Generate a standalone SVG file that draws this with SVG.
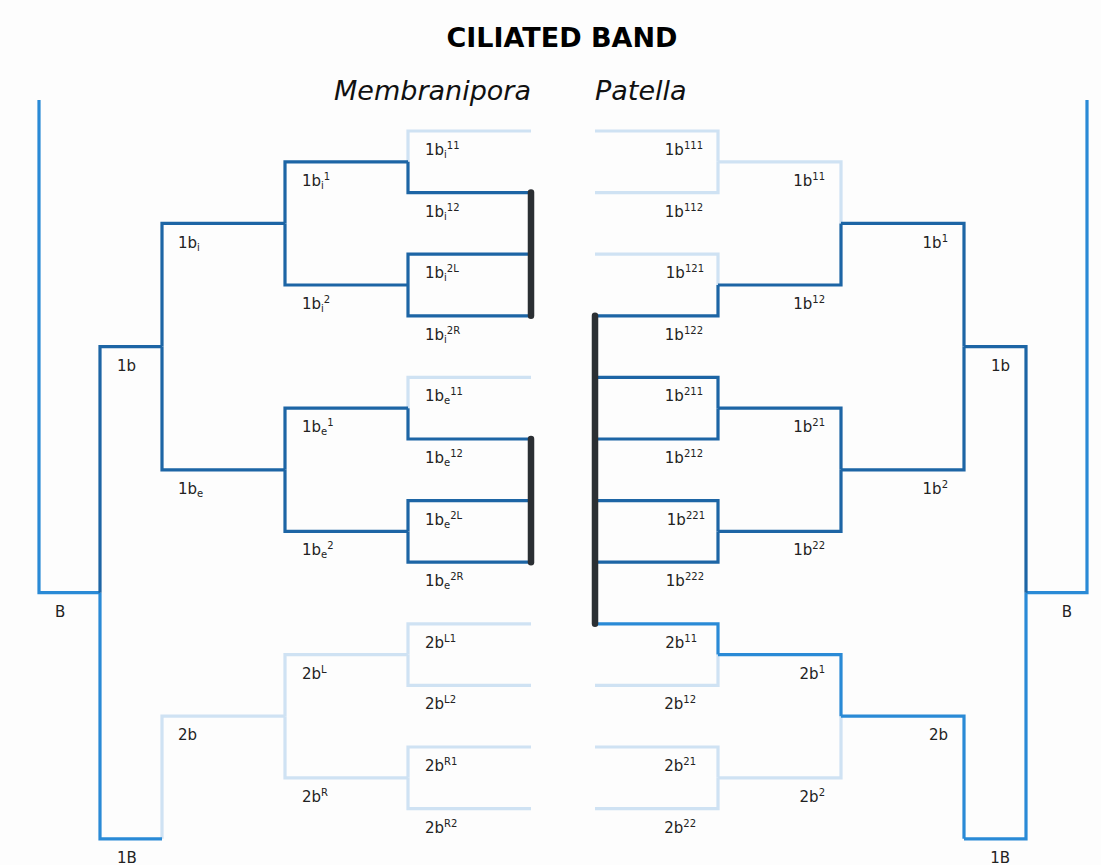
<svg xmlns="http://www.w3.org/2000/svg" width="1101" height="865" viewBox="0 0 1101 865">
<style>
.e{fill:none;stroke-width:3.2;stroke-linejoin:miter;stroke-linecap:butt}
.dk{stroke:#1d65a5}
.br{stroke:#2a8ad6}
.pl{stroke:#cfe2f3}
.bar{fill:none;stroke:#2b2f33;stroke-width:6.5;stroke-linecap:round}
.lb{font-family:"DejaVu Sans","Liberation Sans",sans-serif;font-size:15px;fill:#222}
.r{text-anchor:end}
.s{font-size:10px}
.title{font-family:"DejaVu Sans","Liberation Sans",sans-serif;font-size:27px;font-weight:bold;fill:#000;text-anchor:middle}
.sp{font-family:"DejaVu Sans","Liberation Sans",sans-serif;font-size:27px;font-style:italic;fill:#111}
</style>
<rect width="1101" height="865" fill="#fdfdfd"/>
<g id="connectors">
<!-- pale first -->
<path class="e pl" d="M162,838.8V716.2H285"/>
<path class="e pl" d="M285,716.2V654.6H408"/>
<path class="e pl" d="M285,716.2V777.8H408"/>
<path class="e pl" d="M408,654.6V623.8H531"/>
<path class="e pl" d="M408,654.6V685.4H531"/>
<path class="e pl" d="M408,777.8V747H531"/>
<path class="e pl" d="M408,777.8V808.6H531"/>
<path class="e pl" d="M408,161.8V131H531"/>
<path class="e pl" d="M408,408.2V377.4H531"/>
<path class="e pl" d="M841,223.4V161.8H718"/>
<path class="e pl" d="M718,161.8V131H595"/>
<path class="e pl" d="M718,161.8V192.6H595"/>
<path class="e pl" d="M718,285V254.2H595"/>
<path class="e pl" d="M841,716.2V777.8H718"/>
<path class="e pl" d="M718,654.6V685.4H595"/>
<path class="e pl" d="M718,777.8V747H595"/>
<path class="e pl" d="M718,777.8V808.6H595"/>
<!-- bright -->
<path class="e br" d="M39,100V592.7H100"/>
<path class="e br" d="M100,592.7V838.8H162"/>
<path class="e br" d="M1087,100V592.7H1026"/>
<path class="e br" d="M1026,592.7V838.8H964"/>
<path class="e br" d="M964,838.8V716.2H841"/>
<path class="e br" d="M841,716.2V654.6H718"/>
<path class="e br" d="M718,654.6V623.8H595"/>
<!-- dark -->
<path class="e dk" d="M100,592.7V346.6H162"/>
<path class="e dk" d="M162,346.6V223.4H285"/>
<path class="e dk" d="M162,346.6V469.8H285"/>
<path class="e dk" d="M285,223.4V161.8H408"/>
<path class="e dk" d="M285,223.4V285H408"/>
<path class="e dk" d="M408,161.8V192.6H531"/>
<path class="e dk" d="M408,285V254.2H531"/>
<path class="e dk" d="M408,285V315.8H531"/>
<path class="e dk" d="M285,469.8V408.2H408"/>
<path class="e dk" d="M285,469.8V531.4H408"/>
<path class="e dk" d="M408,408.2V439H531"/>
<path class="e dk" d="M408,531.4V500.6H531"/>
<path class="e dk" d="M408,531.4V562.2H531"/>
<path class="e dk" d="M1026,592.7V346.6H964"/>
<path class="e dk" d="M964,346.6V223.4H841"/>
<path class="e dk" d="M964,346.6V469.8H841"/>
<path class="e dk" d="M841,223.4V285H718"/>
<path class="e dk" d="M718,285V315.8H595"/>
<path class="e dk" d="M841,469.8V408.2H718"/>
<path class="e dk" d="M841,469.8V531.4H718"/>
<path class="e dk" d="M718,408.2V377.4H595"/>
<path class="e dk" d="M718,408.2V439H595"/>
<path class="e dk" d="M718,531.4V500.6H595"/>
<path class="e dk" d="M718,531.4V562.2H595"/>
<!-- thick bars -->
<path class="bar" d="M531,192.6V315.8"/>
<path class="bar" d="M531,439V562.2"/>
<path class="bar" d="M595,315.8V623.8"/>
</g>
<g id="titles">
<text class="title" x="562" y="47">CILIATED BAND</text>
<text class="sp" x="531" y="100" text-anchor="end">Membranipora</text>
<text class="sp" x="595" y="100">Patella</text>
</g>
<!-- left labels -->
<g id="L-B"><text class="lb" x="55" y="617">B</text></g>
<g id="L-1b"><text class="lb" x="117" y="371">1b</text></g>
<g id="L-1B"><text class="lb" x="117" y="863">1B</text></g>
<g id="L-1bi"><text class="lb" x="178" y="248">1b<tspan class="s" dy="3">i</tspan></text></g>
<g id="L-1be"><text class="lb" x="178" y="494">1b<tspan class="s" dy="3">e</tspan></text></g>
<g id="L-2b"><text class="lb" x="178" y="740">2b</text></g>
<g id="L-1bi1"><text class="lb" x="302" y="186">1b<tspan class="s" dy="3">i</tspan><tspan class="s" dy="-9">1</tspan></text></g>
<g id="L-1bi2"><text class="lb" x="302" y="309">1b<tspan class="s" dy="3">i</tspan><tspan class="s" dy="-9">2</tspan></text></g>
<g id="L-1be1"><text class="lb" x="302" y="432">1b<tspan class="s" dy="3">e</tspan><tspan class="s" dy="-9">1</tspan></text></g>
<g id="L-1be2"><text class="lb" x="302" y="555">1b<tspan class="s" dy="3">e</tspan><tspan class="s" dy="-9">2</tspan></text></g>
<g id="L-2bL"><text class="lb" x="302" y="679">2b<tspan class="s" dy="-6">L</tspan></text></g>
<g id="L-2bR"><text class="lb" x="302" y="802">2b<tspan class="s" dy="-6">R</tspan></text></g>
<g id="L-1bi11"><text class="lb" x="425" y="155">1b<tspan class="s" dy="3">i</tspan><tspan class="s" dy="-9">11</tspan></text></g>
<g id="L-1bi12"><text class="lb" x="425" y="216.6">1b<tspan class="s" dy="3">i</tspan><tspan class="s" dy="-9">12</tspan></text></g>
<g id="L-1bi2L"><text class="lb" x="425" y="278.2">1b<tspan class="s" dy="3">i</tspan><tspan class="s" dy="-9">2L</tspan></text></g>
<g id="L-1bi2R"><text class="lb" x="425" y="339.8">1b<tspan class="s" dy="3">i</tspan><tspan class="s" dy="-9">2R</tspan></text></g>
<g id="L-1be11"><text class="lb" x="425" y="401.4">1b<tspan class="s" dy="3">e</tspan><tspan class="s" dy="-9">11</tspan></text></g>
<g id="L-1be12"><text class="lb" x="425" y="463">1b<tspan class="s" dy="3">e</tspan><tspan class="s" dy="-9">12</tspan></text></g>
<g id="L-1be2L"><text class="lb" x="425" y="524.6">1b<tspan class="s" dy="3">e</tspan><tspan class="s" dy="-9">2L</tspan></text></g>
<g id="L-1be2R"><text class="lb" x="425" y="586.2">1b<tspan class="s" dy="3">e</tspan><tspan class="s" dy="-9">2R</tspan></text></g>
<g id="L-2bL1"><text class="lb" x="425" y="647.8">2b<tspan class="s" dy="-6">L1</tspan></text></g>
<g id="L-2bL2"><text class="lb" x="425" y="709.4">2b<tspan class="s" dy="-6">L2</tspan></text></g>
<g id="L-2bR1"><text class="lb" x="425" y="771">2b<tspan class="s" dy="-6">R1</tspan></text></g>
<g id="L-2bR2"><text class="lb" x="425" y="832.6">2b<tspan class="s" dy="-6">R2</tspan></text></g>
<!-- right labels -->
<g id="R-B"><text class="lb r" x="1072" y="617">B</text></g>
<g id="R-1b"><text class="lb r" x="1010" y="371">1b</text></g>
<g id="R-1B"><text class="lb r" x="1010" y="863">1B</text></g>
<g id="R-1b1"><text class="lb r" x="948" y="248">1b<tspan class="s" dy="-6">1</tspan></text></g>
<g id="R-1b2"><text class="lb r" x="948" y="494">1b<tspan class="s" dy="-6">2</tspan></text></g>
<g id="R-2b"><text class="lb r" x="948" y="740">2b</text></g>
<g id="R-1b11"><text class="lb r" x="825" y="186">1b<tspan class="s" dy="-6">11</tspan></text></g>
<g id="R-1b12"><text class="lb r" x="825" y="309">1b<tspan class="s" dy="-6">12</tspan></text></g>
<g id="R-1b21"><text class="lb r" x="825" y="432">1b<tspan class="s" dy="-6">21</tspan></text></g>
<g id="R-1b22"><text class="lb r" x="825" y="555">1b<tspan class="s" dy="-6">22</tspan></text></g>
<g id="R-2b1"><text class="lb r" x="825" y="679">2b<tspan class="s" dy="-6">1</tspan></text></g>
<g id="R-2b2"><text class="lb r" x="825" y="802">2b<tspan class="s" dy="-6">2</tspan></text></g>
<g id="R-1b111"><text class="lb r" x="703" y="155">1b<tspan class="s" dy="-6">111</tspan></text></g>
<g id="R-1b112"><text class="lb r" x="703" y="216.6">1b<tspan class="s" dy="-6">112</tspan></text></g>
<g id="R-1b121"><text class="lb r" x="704" y="278.2">1b<tspan class="s" dy="-6">121</tspan></text></g>
<g id="R-1b122"><text class="lb r" x="703" y="339.8">1b<tspan class="s" dy="-6">122</tspan></text></g>
<g id="R-1b211"><text class="lb r" x="703" y="401.4">1b<tspan class="s" dy="-6">211</tspan></text></g>
<g id="R-1b212"><text class="lb r" x="703" y="463">1b<tspan class="s" dy="-6">212</tspan></text></g>
<g id="R-1b221"><text class="lb r" x="705" y="524.6">1b<tspan class="s" dy="-6">221</tspan></text></g>
<g id="R-1b222"><text class="lb r" x="704" y="586.2">1b<tspan class="s" dy="-6">222</tspan></text></g>
<g id="R-2b11"><text class="lb r" x="697" y="647.8">2b<tspan class="s" dy="-6">11</tspan></text></g>
<g id="R-2b12"><text class="lb r" x="696" y="709.4">2b<tspan class="s" dy="-6">12</tspan></text></g>
<g id="R-2b21"><text class="lb r" x="696" y="771">2b<tspan class="s" dy="-6">21</tspan></text></g>
<g id="R-2b22"><text class="lb r" x="696" y="832.6">2b<tspan class="s" dy="-6">22</tspan></text></g>
</svg>
